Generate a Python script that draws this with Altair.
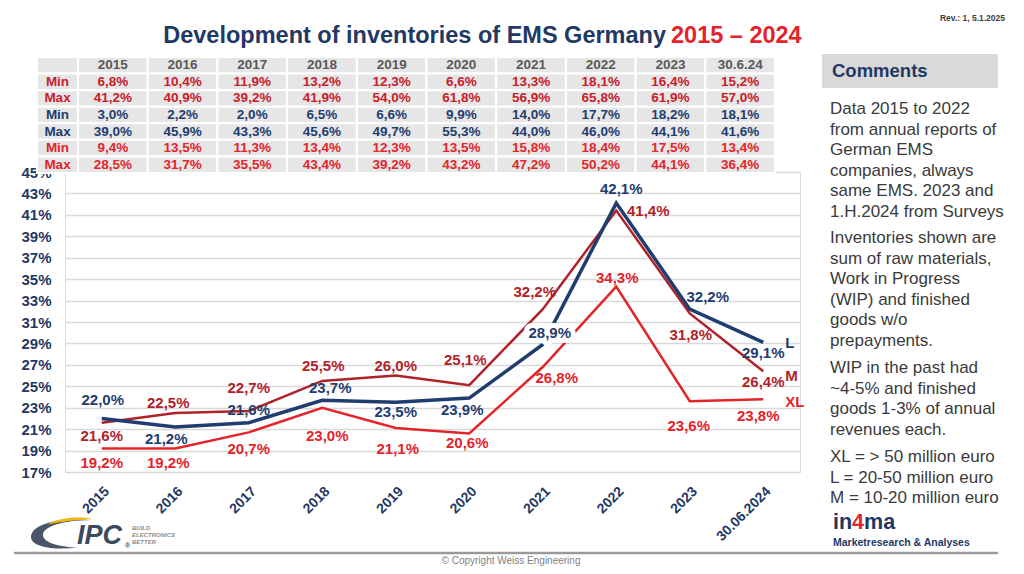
import altair as alt
import pandas as pd

# ---------------- data ----------------
years = ["2015", "2016", "2017", "2018", "2019", "2020", "2021", "2022", "2023", "30.06.2024"]
series_names = ["L", "M", "XL"]
L_vals = [22.0, 21.2, 21.6, 23.7, 23.5, 23.9, 28.9, 42.1, 32.2, 29.1]
M_vals = [21.6, 22.5, 22.7, 25.5, 26.0, 25.1, 32.2, 41.4, 31.8, 26.4]
XL_vals = [19.2, 19.2, 20.7, 23.0, 21.1, 20.6, 26.8, 34.3, 23.6, 23.8]

table_cols = ["2015", "2016", "2017", "2018", "2019", "2020", "2021", "2022", "2023", "30.6.24"]
M_min = [6.8, 10.4, 11.9, 13.2, 12.3, 6.6, 13.3, 18.1, 16.4, 15.2]
M_max = [41.2, 40.9, 39.2, 41.9, 54.0, 61.8, 56.9, 65.8, 61.9, 57.0]
L_min = [3.0, 2.2, 2.0, 6.5, 6.6, 9.9, 14.0, 17.7, 18.2, 18.1]
L_max = [39.0, 45.9, 43.3, 45.6, 49.7, 55.3, 44.0, 46.0, 44.1, 41.6]
XL_min = [9.4, 13.5, 11.3, 13.4, 12.3, 13.5, 15.8, 18.4, 17.5, 13.4]
XL_max = [28.5, 31.7, 35.5, 43.4, 39.2, 43.2, 47.2, 50.2, 44.1, 36.4]

y_ticks = list(range(17, 46, 2))

# label nudges in pixels (placement of value labels only)
label_dx = {
    "L": [1, -9, 0, 8, 0, -7, 7, 5, 18, 0],
    "M": [0, -7, 0, 1, 0, -4, -8, 32, 1, 0],
    "XL": [0, -7, 0, 5, 2, -2, 14, 1, -1, -5],
}
label_dy = {
    "L": [-18, 12, -13, -12, 10, 12, -12, -14, -12, 11],
    "M": [13, -10, -23, -15, -10, -25, -17, 0, 22, 11],
    "XL": [15, 15, 17, 28, 21, 10, 11, -9, 25, 17],
}
end_dy = {"L": 1, "M": 5, "XL": 3}

# ---------------- styles ----------------
FONT = "Liberation Sans"
NAVY = "#1F3864"
C_L = "#1F3D6E"
C_M = "#B0222A"
C_XL = "#E3242B"
colors = {"L": C_L, "M": C_M, "XL": C_XL}
widths = {"L": 3.5, "M": 2.5, "XL": 2.5}
TEXT_GRAY = "#3A3A3A"

values = {"L": L_vals, "M": M_vals, "XL": XL_vals}
rows = []
for s in series_names:
    for i, yr in enumerate(years):
        rows.append({"year": yr, "series": s, "value": values[s][i]})
df = pd.DataFrame(rows)

X = alt.X("year:N", sort=years, scale=alt.Scale(domain=years),
          axis=alt.Axis(title=None, labelAngle=-45, labelFont=FONT, labelFontSize=14,
                        labelFontWeight="bold", labelColor=NAVY, domain=False, ticks=False,
                        grid=False, labelPadding=12, zindex=0))
Y = alt.Y("value:Q", scale=alt.Scale(domain=[17, 45], nice=False, zero=False),
          axis=alt.Axis(title=None, values=y_ticks, labelExpr="datum.value + '%'",
                        labelFont=FONT, labelFontSize=15, labelFontWeight="bold",
                        labelColor=NAVY, domain=False, ticks=False, gridColor="#D9D9D9",
                        gridWidth=1.5, labelPadding=14, zindex=0))

lines = [
    alt.Chart(df).transform_filter(alt.datum.series == s)
    .mark_line(color=colors[s], strokeWidth=widths[s])
    .encode(x=X, y=Y)
    for s in ["XL", "M", "L"]
]

lab_expr = "replace(format(datum.value, '.1f'), '.', ',') + '%'"


def point_label(s, i, halo=False):
    base = (alt.Chart(df)
            .transform_filter((alt.datum.series == s) & (alt.datum.year == years[i]))
            .transform_calculate(lab=lab_expr))
    if halo:
        mk = base.mark_text(font=FONT, fontSize=15, fontWeight="bold", color="white",
                            stroke="white", strokeWidth=10, strokeJoin="round",
                            dx=label_dx[s][i], dy=label_dy[s][i])
    else:
        mk = base.mark_text(font=FONT, fontSize=15, fontWeight="bold", color=colors[s],
                            dx=label_dx[s][i], dy=label_dy[s][i])
    return mk.encode(x=X, y=Y, text="lab:N")


halo = point_label("L", years.index("2021"), halo=True)
labels = [point_label(s, i) for s in series_names for i in range(len(years))]

end_labels = [
    alt.Chart(df)
    .transform_filter((alt.datum.series == s) & (alt.datum.year == years[-1]))
    .mark_text(font=FONT, fontSize=15, fontWeight="bold", align="left", dx=22,
               dy=end_dy[s], color=colors[s])
    .encode(x=X, y=Y, text="series:N")
    for s in series_names
]

main = alt.layer(*lines, halo, *labels, *end_labels)

# ---------------- table ----------------
tbl_rows = [("Min", "M", M_min), ("Max", "M", M_max), ("Min", "L", L_min),
            ("Max", "L", L_max), ("Min", "XL", XL_min), ("Max", "XL", XL_max)]
row_ids = [str(i) for i in range(7)]
trows = []
lrows = [{"row": "0", "txt": "", "grp": "hdr"}]
for c in table_cols:
    trows.append({"col": c, "row": "0", "txt": c, "grp": "hdr"})
for r, (name, grp, vals) in enumerate(tbl_rows, start=1):
    lrows.append({"row": str(r), "txt": name, "grp": grp})
    for c, v in zip(table_cols, vals):
        trows.append({"col": c, "row": str(r),
                      "txt": f"{v:.1f}".replace(".", ",") + "%", "grp": grp})
tdf = pd.DataFrame(trows)
ldf = pd.DataFrame(lrows)

TX = alt.X("col:N", sort=table_cols,
           scale=alt.Scale(domain=table_cols, range=[13, 710], paddingInner=0, paddingOuter=0),
           axis=None)
TY = alt.Y("row:N", sort=row_ids,
           scale=alt.Scale(domain=row_ids, range=[-115, 1], paddingInner=0, paddingOuter=0),
           axis=None)
tcolor = alt.Color("grp:N", scale=alt.Scale(domain=["hdr", "M", "L", "XL"],
                                            range=["#595959", "#C8202A", C_L, "#E3242B"]),
                   legend=None)

t_rect = alt.Chart(tdf).mark_rect(fill="#E6E6E6", stroke="white", strokeWidth=2).encode(x=TX, y=TY)
t_text = alt.Chart(tdf).mark_text(font=FONT, fontSize=13.5, fontWeight="bold").encode(
    x=TX, y=TY, text="txt:N", color=tcolor)
l_rect = alt.Chart(ldf).mark_rect(fill="#E6E6E6", stroke="white", strokeWidth=2).encode(
    x=alt.value(-28), x2=alt.value(13), y=TY)
l_text = alt.Chart(ldf).mark_text(font=FONT, fontSize=13.5, fontWeight="bold").encode(
    x=alt.value(-7.5), y=TY, text="txt:N", color=tcolor)

table = alt.layer(t_rect, t_text, l_rect, l_text)

# ---------------- decorations ----------------
one = alt.Data(values=[{"a": 1}])


def txt(text, x, y, size, color, weight="normal", align="left", font=FONT, style="normal",
        baseline="middle", line_height=None):
    kw = dict(font=font, fontSize=size, fontWeight=weight, align=align, color=color,
              baseline=baseline, fontStyle=style)
    if line_height is not None:
        kw["lineHeight"] = line_height
    return alt.Chart(one).mark_text(**kw).encode(
        x=alt.value(x), y=alt.value(y), text=alt.value(text))


title_blue = txt("Development of inventories of EMS Germany", 601, -136, 23.5, NAVY, "bold", "right")
title_red = txt("2015 – 2024", 606, -136, 23.5, "#E3242B", "bold", "left")
rev = txt("Rev.: 1, 5.1.2025", 940, -154, 8.5, "#404040", "bold", "right",
          font="Liberation Sans Narrow, Liberation Sans")

comments_box = alt.Chart(one).mark_rect(fill="#D9D9D9").encode(
    x=alt.value(757), x2=alt.value(933), y=alt.value(-118), y2=alt.value(-84))
comments_title = txt("Comments", 767, -101, 18.5, NAVY, "bold")

paras = [
    (["Data 2015 to 2022", "from annual reports of", "German EMS", "companies, always",
      "same EMS. 2023 and", "1.H.2024 from Surveys"], -58),
    (["Inventories shown are", "sum of raw materials,", "Work in Progress",
      "(WIP) and finished", "goods w/o", "prepayments."], 71),
    (["WIP in the past had", "~4-5% and finished", "goods 1-3% of annual",
      "revenues each."], 201),
    (["XL = > 50 million euro", "L = 20-50 million euro", "M = 10-20 million euro"], 290),
]
para_layers = [txt(lines_, 765, y0, 17, TEXT_GRAY, baseline="alphabetic", line_height=20.6)
               for lines_, y0 in paras]

in4ma = [
    txt("in", 768, 351, 21.5, NAVY, "bold"),
    txt("4", 787.1, 351, 21.5, "#E3242B", "bold"),
    txt("ma", 799.1, 351, 21.5, NAVY, "bold"),
    txt("Marketresearch & Analyses", 768, 371, 10.5, NAVY, "bold"),
]

bottom_rule = alt.Chart(one).mark_rule(color="#9A9A9A", strokeWidth=2.5).encode(
    x=alt.value(-51), x2=alt.value(933), y=alt.value(381))
copyright_ = txt("© Copyright Weiss Engineering", 446, 389, 10, "#7F7F7F", align="center")

swoosh_gray = alt.Chart(one).mark_point(
    shape="M 0.95 -0.46 C 0.2 -0.58 -1 -0.38 -1 0.1 C -1 0.45 -0.2 0.54 0.55 0.46 "
          "C -0.1 0.41 -0.6 0.28 -0.6 0.03 C -0.6 -0.26 0.1 -0.46 0.95 -0.46 Z",
    filled=True, color="#4A5568", opacity=1, size=3600).encode(
    x=alt.value(-4), y=alt.value(362))
swoosh_yellow = alt.Chart(one).mark_point(
    shape="M -0.45 -0.32 C -0.1 -0.54 0.6 -0.6 1.05 -0.5 C 0.5 -0.47 0 -0.41 -0.45 -0.32 Z",
    filled=True, color="#F2B705", opacity=1, size=3600).encode(
    x=alt.value(-4), y=alt.value(362))
ipc = txt("IPC", 12, 364, 27, "#3B4A5E", "bold", style="italic")
reg = txt("®", 60, 374, 7, "#3B4A5E", "bold")
ipc_small = [
    txt("BUILD", 67, 356, 6, "#8C8C8C", "bold", style="italic"),
    txt("ELECTRONICS", 67, 363, 6, "#8C8C8C", "bold", style="italic"),
    txt("BETTER", 67, 370, 6, "#8C8C8C", "bold", style="italic"),
]

chart = alt.layer(
    main, table, title_blue, title_red, rev, comments_box, comments_title,
    *para_layers, *in4ma, bottom_rule, copyright_, swoosh_gray, swoosh_yellow,
    ipc, reg, *ipc_small,
).resolve_scale(x="independent", y="independent", color="independent").properties(
    width=735, height=300,
    autosize=alt.AutoSizeParams(type="none"),
    padding={"left": 57, "top": 164, "right": 216, "bottom": 94},
    background="white",
).configure_view(stroke=None).configure(font=FONT)

chart.save("out.html", embed_options={"renderer": "svg", "actions": False})
